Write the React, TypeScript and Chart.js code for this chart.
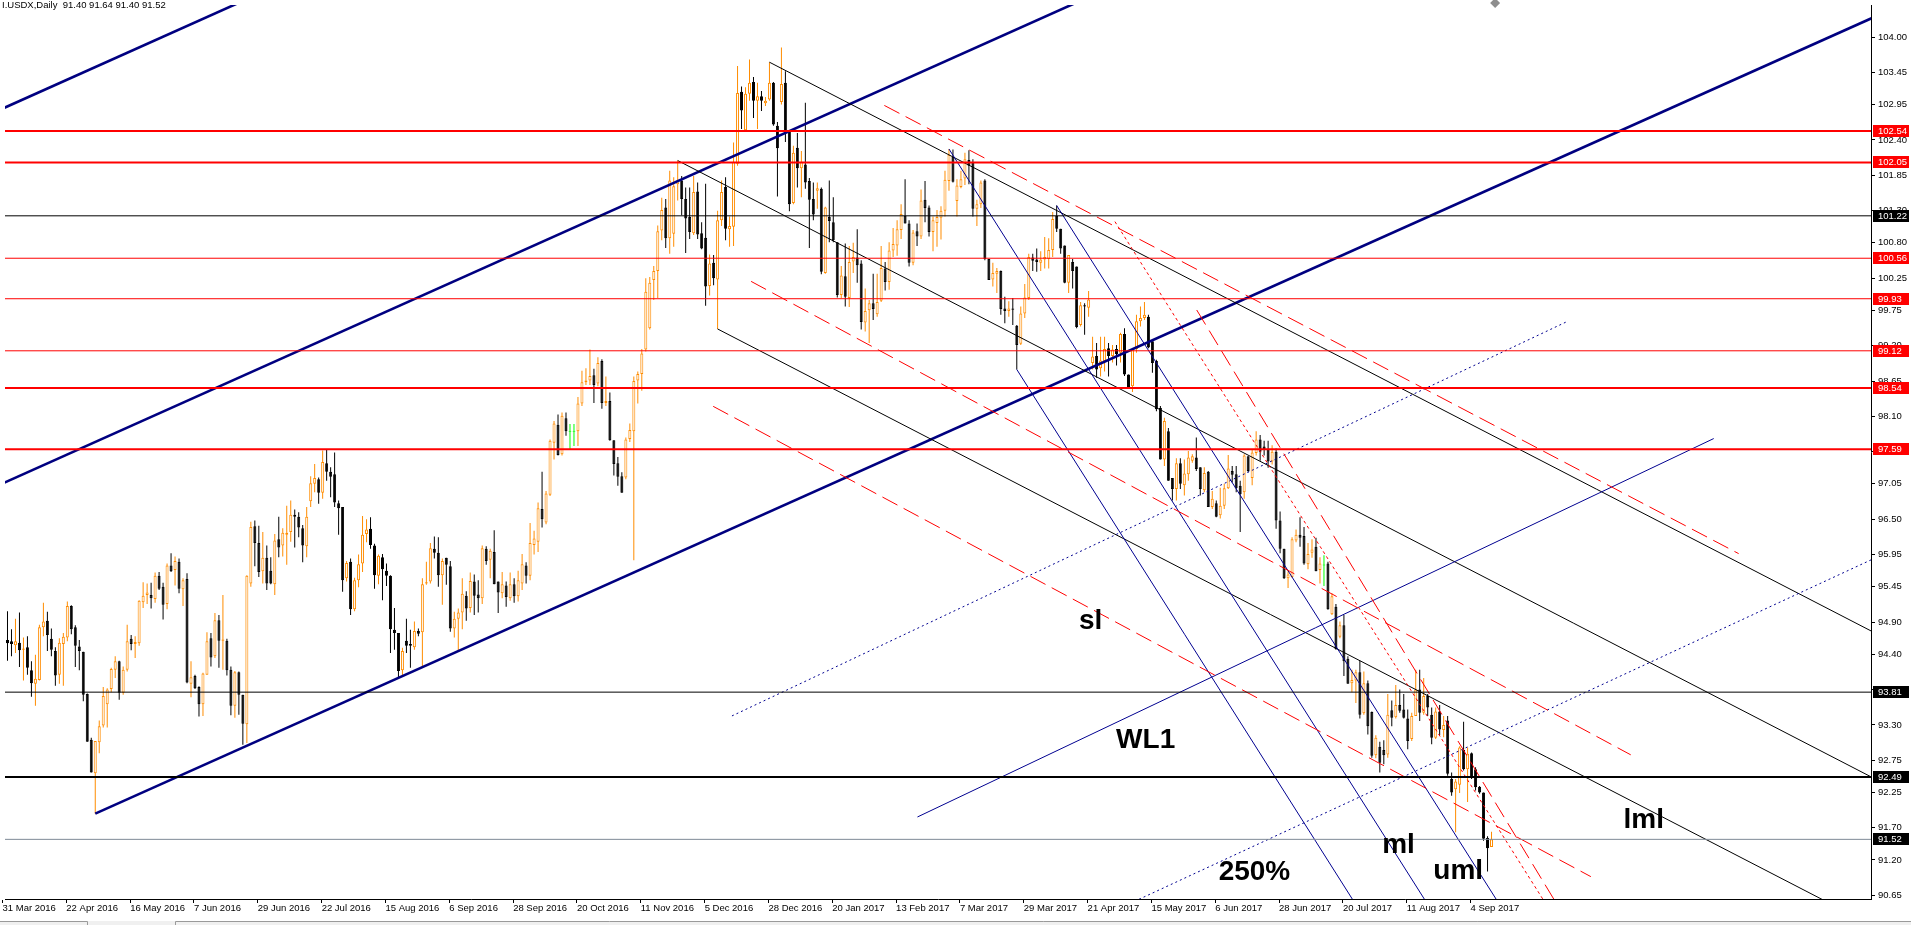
import React, { useEffect, useRef } from 'react';
import { Chart, registerables } from 'chart.js';

Chart.register(...registerables);

// ---------- daily candles (bar index 0 .. 372) ----------
const OPEN = [
94.62,94.60,94.54,94.58,94.47,94.51,94.15,93.94,94.00,94.82,
94.92,94.64,94.45,94.08,94.56,94.66,95.15,94.82,94.52,94.44,
93.78,93.07,92.55,93.03,93.29,93.62,93.86,94.16,94.29,93.80,
94.16,94.64,94.56,94.57,95.21,95.32,95.32,95.26,95.62,95.45,
95.18,95.78,95.71,95.84,95.41,95.57,93.94,94.06,93.89,93.62,
94.08,94.65,94.37,94.93,94.61,94.61,94.16,93.60,94.12,93.77,
93.31,95.50,96.39,96.13,95.69,95.90,95.70,95.49,96.19,96.09,
96.26,96.30,96.57,96.54,96.36,96.08,96.78,97.05,97.12,96.91,
97.37,97.24,97.20,96.75,96.69,95.58,95.84,95.10,95.55,95.81,
96.27,96.35,96.09,95.62,95.91,95.70,95.62,94.78,94.73,94.15,
94.61,94.56,94.51,94.76,94.74,95.50,95.53,96.04,95.98,95.63,
95.90,95.77,94.80,94.95,95.05,95.31,95.12,95.53,95.33,95.27,
96.04,95.87,95.99,95.53,95.35,95.47,95.27,95.49,95.30,95.50,
95.78,95.62,96.10,96.15,96.66,96.45,96.88,97.69,97.97,97.51,
98.07,97.86,97.86,97.87,98.30,98.63,98.66,98.74,98.61,98.96,
98.31,98.34,97.73,97.37,97.17,97.15,97.75,97.87,98.66,98.76,
99.14,99.47,100.22,100.36,100.99,101.35,100.87,100.94,101.71,101.77,
101.48,101.20,100.95,101.60,100.95,100.88,100.13,100.49,100.23,101.15,
101.67,101.01,101.05,102.03,103.15,102.55,103.12,103.30,103.01,103.08,
102.97,103.03,103.29,102.62,102.99,103.29,102.54,101.42,102.28,101.96,
102.02,101.76,101.48,101.61,101.64,100.33,101.20,101.12,100.81,99.99,
100.28,99.94,100.51,100.57,100.48,99.56,99.75,99.86,99.69,99.90,
100.40,100.19,100.68,100.76,101.00,101.22,101.10,100.49,100.98,100.90,
101.47,101.35,100.97,101.11,101.19,101.30,101.76,102.14,101.45,101.67,
101.80,102.09,102.05,101.33,101.40,101.77,100.55,100.23,100.32,100.36,
99.78,99.74,99.78,99.51,99.23,99.70,99.94,100.57,100.54,100.49,
100.54,100.55,100.69,101.22,101.02,100.76,100.18,100.50,100.43,99.52,
99.83,99.79,98.93,99.04,98.85,98.96,99.16,99.04,99.15,99.09,
99.38,98.75,98.57,99.15,99.58,99.63,99.65,99.27,98.96,98.23,
97.43,97.87,97.14,96.97,97.37,97.03,97.20,97.41,97.46,97.31,
96.95,97.24,96.69,96.75,96.56,96.71,96.98,97.25,97.20,97.02,
96.92,97.48,97.14,97.53,97.74,97.63,97.59,97.40,97.55,96.48,
96.04,95.58,95.60,96.17,96.26,96.24,95.80,95.98,96.07,95.71,
95.78,95.81,95.02,95.14,94.67,94.85,94.33,93.95,93.99,94.12,
93.48,93.95,93.50,92.83,92.96,92.91,92.84,93.53,93.42,93.61,
93.54,93.40,93.08,93.44,93.85,93.49,93.75,93.46,93.10,93.51,
93.22,93.37,92.46,92.30,92.37,92.91,92.61,92.86,92.61,92.34,
92.25,91.54,91.40];
const HIGH = [
95.07,94.79,94.95,95.05,94.66,94.68,94.29,94.39,94.86,95.20,
95.06,94.80,94.51,94.65,94.73,95.22,95.16,94.85,94.62,94.44,
93.79,93.10,93.05,93.37,93.89,93.87,94.19,94.37,94.30,94.21,
94.86,94.70,94.68,95.24,95.52,95.50,95.51,95.67,95.68,95.51,
95.81,95.97,95.92,95.89,95.58,95.66,94.29,94.08,93.90,94.11,
94.74,94.73,95.04,95.01,95.32,94.64,94.21,94.14,94.13,93.77,
95.63,96.46,96.48,96.40,96.30,96.09,95.91,96.27,96.54,96.36,
96.71,96.79,96.65,96.61,96.41,96.69,97.17,97.36,97.15,97.57,
97.59,97.31,97.54,96.79,96.69,95.85,95.89,95.59,95.95,96.55,
96.50,96.53,96.12,95.95,95.96,95.81,95.63,95.12,94.73,94.50,
94.95,94.78,94.91,94.80,95.58,95.84,96.13,96.23,96.22,95.89,
95.90,95.85,95.06,95.11,95.58,95.38,95.67,95.64,95.55,96.09,
96.08,96.04,96.33,95.53,95.68,95.53,95.67,95.58,95.70,95.96,
95.83,96.44,96.32,96.76,97.24,96.94,97.74,98.03,98.13,98.16,
98.16,97.98,97.98,98.40,98.81,98.85,99.14,98.84,99.02,98.99,
98.72,98.47,97.73,97.47,97.23,97.77,97.99,98.72,98.80,99.15,
100.25,100.27,100.44,101.07,101.50,101.48,101.92,101.82,102.08,101.84,
101.66,101.66,101.84,101.74,101.12,101.72,100.62,100.61,101.30,101.77,
101.82,101.21,102.36,103.55,103.23,103.22,103.65,103.38,103.29,103.16,
103.07,103.61,103.30,102.68,103.84,103.47,102.54,102.31,102.51,102.23,
102.98,101.81,101.74,101.74,101.66,101.36,101.77,101.51,100.81,100.44,
100.79,100.75,100.80,101.01,100.53,100.09,99.91,100.32,100.32,100.75,
100.50,100.81,101.03,101.15,101.40,101.79,101.15,101.00,101.10,101.63,
101.76,101.38,101.21,101.31,101.37,101.92,102.26,102.25,101.79,101.92,
102.20,102.24,102.10,101.47,101.77,101.79,100.55,100.49,100.41,100.37,
99.96,99.89,99.94,99.52,99.81,100.16,100.63,100.63,100.71,100.67,
100.89,100.87,101.28,101.38,101.02,100.76,100.61,100.55,100.43,99.88,
99.86,100.05,99.34,99.24,99.34,99.34,99.24,99.21,99.21,99.40,
99.47,98.75,99.16,99.68,99.81,99.88,99.68,99.27,98.98,98.26,
98.08,97.92,97.14,97.45,97.45,97.43,97.56,97.51,97.77,97.31,
97.31,97.25,96.94,96.79,96.99,97.05,97.50,97.33,97.33,97.10,
97.51,97.48,97.59,97.87,97.81,97.72,97.72,97.65,97.60,96.62,
96.04,95.69,96.22,96.34,96.53,96.38,96.13,96.19,96.21,95.91,
95.94,95.84,95.35,95.18,94.91,95.01,94.37,94.16,94.16,94.30,
94.13,93.99,93.51,93.14,93.04,93.06,93.78,93.68,93.92,93.85,
93.78,93.54,93.49,94.16,94.16,94.03,93.78,93.57,93.57,93.61,
93.44,93.44,92.56,92.46,92.97,93.35,92.95,92.87,92.64,92.35,
92.25,91.57,91.64];
const LOW = [
94.30,94.37,94.42,94.20,93.99,94.08,93.74,93.60,93.99,94.68,
94.45,94.37,93.91,93.94,93.91,94.60,94.71,94.20,94.15,93.67,
93.04,92.56,91.92,92.86,93.26,93.26,93.81,94.03,93.69,93.77,
94.13,94.46,94.34,94.53,95.12,95.18,95.11,95.20,95.40,94.94,
95.10,95.68,95.47,95.35,95.15,93.95,93.73,93.86,93.43,93.44,
94.08,94.21,94.34,94.19,94.16,94.07,93.45,93.41,93.46,92.99,
93.02,95.45,95.77,95.60,95.50,95.40,95.49,95.32,95.91,95.92,
95.79,96.15,96.06,96.22,95.83,95.91,96.69,96.92,96.74,96.82,
97.10,96.84,96.69,96.26,95.37,95.53,95.01,95.07,95.44,95.68,
96.14,96.04,95.42,95.49,95.24,95.46,94.42,94.47,94.04,94.07,
94.42,94.19,94.47,94.68,94.21,95.48,95.50,95.89,95.45,95.17,
95.48,94.75,94.66,94.44,94.79,94.92,95.05,95.01,95.05,95.18,
95.79,95.58,95.49,95.04,95.27,95.14,95.23,95.20,95.22,95.40,
95.50,95.55,95.95,95.99,96.37,96.42,96.86,97.43,97.49,97.49,
97.80,97.59,97.64,97.64,98.26,98.59,98.59,98.31,98.57,98.22,
98.26,97.72,97.18,97.02,96.91,97.12,97.70,95.86,98.30,98.50,
99.11,99.45,99.91,99.94,100.84,100.72,100.63,100.74,101.46,101.23,
100.64,100.86,100.92,100.86,100.70,99.82,99.98,100.14,99.46,101.06,
100.84,100.74,100.75,102.00,102.57,102.54,103.01,102.74,102.57,102.85,
102.93,103.01,102.62,101.52,102.95,102.37,101.29,101.40,101.66,101.51,
101.64,100.72,101.15,101.33,100.31,100.32,100.81,100.81,99.95,99.94,
99.81,99.80,100.33,100.18,99.45,99.42,99.24,99.60,99.65,99.88,
100.06,100.07,100.58,100.60,100.86,101.10,100.43,100.45,100.75,100.86,
101.12,100.90,100.67,100.74,100.85,101.21,101.61,101.74,101.21,101.65,
101.70,101.71,101.21,101.06,101.34,100.53,100.22,100.12,100.02,99.68,
99.55,99.65,99.52,98.83,99.21,99.63,99.91,100.36,100.35,100.36,
100.40,100.40,100.58,100.97,100.63,100.17,100.02,100.09,99.47,99.50,
99.37,99.65,98.83,98.70,98.72,98.80,98.72,98.94,98.89,98.94,
98.73,98.54,98.48,99.09,99.50,99.60,99.16,98.78,98.18,97.43,
97.33,97.10,96.79,96.79,96.97,96.87,97.10,97.38,97.25,96.87,
96.92,96.69,96.66,96.53,96.51,96.66,96.97,97.07,96.92,96.30,
96.82,97.23,97.03,97.49,97.41,97.49,97.30,97.35,96.35,95.97,
95.57,95.43,95.59,96.14,96.07,95.79,95.72,95.90,95.69,95.50,
95.46,95.09,95.01,94.47,94.65,94.06,93.94,93.81,93.64,93.40,
93.46,93.15,92.79,92.78,92.56,92.69,92.79,93.28,93.40,93.49,
93.40,92.92,93.05,93.44,93.36,93.46,93.44,93.00,93.08,93.14,
93.11,92.51,92.20,91.63,92.24,92.59,92.10,92.46,92.28,92.23,
91.50,91.02,91.40];
const CLOSE = [
94.57,94.56,94.60,94.46,94.49,94.19,93.95,94.02,94.82,94.91,
94.70,94.47,94.07,94.58,94.67,95.15,94.79,94.53,94.45,93.77,
93.04,92.56,93.05,93.28,93.75,93.85,94.17,94.29,93.80,94.16,
94.60,94.56,94.59,95.23,95.31,95.36,95.27,95.62,95.42,95.17,
95.78,95.69,95.85,95.42,95.55,93.96,94.04,93.87,93.62,94.10,
94.60,94.35,94.93,94.61,94.63,94.15,93.60,94.12,93.77,93.32,
95.62,96.38,96.13,95.68,95.90,95.50,95.50,96.17,96.06,96.29,
96.29,96.57,96.54,96.37,96.09,96.54,97.06,97.14,96.91,97.39,
97.24,97.16,96.76,96.67,95.55,95.82,95.10,95.55,95.80,96.26,
96.34,96.10,95.63,95.93,95.72,95.62,94.79,94.73,94.14,94.45,
94.53,94.53,94.76,94.72,95.49,95.52,96.05,95.98,95.63,95.85,
95.79,94.80,94.95,95.05,95.34,95.11,95.54,95.31,95.27,96.05,
95.85,96.01,95.49,95.36,95.49,95.29,95.49,95.30,95.55,95.80,
95.62,96.13,96.20,96.67,96.50,96.90,97.72,97.99,97.50,98.11,
97.87,97.86,97.86,98.30,98.63,98.66,98.73,98.59,98.93,98.31,
98.34,97.73,97.36,97.16,96.91,97.74,97.89,98.65,98.76,99.08,
100.04,100.18,100.36,100.98,101.31,100.87,101.77,101.68,101.77,101.48,
101.18,100.97,101.59,100.93,100.71,100.12,100.48,100.25,101.15,101.59,
101.02,101.06,102.06,103.13,102.86,103.12,103.29,103.01,103.08,103.01,
103.01,103.29,102.64,102.27,103.27,102.51,101.40,102.20,101.96,102.06,
101.74,101.47,101.24,101.65,100.35,101.35,101.14,100.84,99.99,100.29,
99.96,100.50,100.58,100.45,99.57,99.74,99.86,99.77,99.88,100.41,
100.19,100.68,100.78,101.01,101.25,101.10,100.49,100.96,100.90,101.46,
101.34,100.97,101.15,101.20,101.30,101.78,102.17,101.75,101.69,101.79,
102.10,102.00,101.33,101.40,101.74,100.55,100.22,100.33,100.36,99.77,
99.74,99.78,99.76,99.21,99.70,99.95,100.58,100.52,100.50,100.54,
100.58,100.69,101.17,101.02,100.71,100.18,100.61,100.36,99.49,99.83,
99.81,99.92,99.03,98.83,98.97,99.15,99.04,99.14,99.07,99.38,
98.75,98.54,99.15,99.58,99.63,99.68,99.17,98.93,98.21,97.43,
98.03,97.10,96.97,97.37,97.05,97.21,97.46,97.48,97.28,96.97,
97.22,96.69,96.82,96.54,96.71,96.98,97.29,97.19,96.98,96.89,
97.49,97.25,97.54,97.74,97.55,97.59,97.40,97.55,96.48,96.04,
95.58,95.64,96.19,96.26,96.21,95.81,95.96,96.03,95.69,95.81,
95.78,95.10,95.30,94.48,94.85,94.29,93.94,94.00,94.12,93.46,
93.95,93.28,92.82,93.10,92.71,92.83,93.46,93.41,93.61,93.52,
93.41,93.05,93.44,93.85,93.49,93.75,93.57,93.10,93.51,93.23,
93.30,92.54,92.25,92.42,92.95,92.61,92.85,92.48,92.33,92.25,
91.53,91.38,91.52];

// ---------- axes ----------
const DATE_LABELS = ['31 Mar 2016','22 Apr 2016','16 May 2016','7 Jun 2016','29 Jun 2016','22 Jul 2016',
  '15 Aug 2016','6 Sep 2016','28 Sep 2016','20 Oct 2016','11 Nov 2016','5 Dec 2016','28 Dec 2016',
  '20 Jan 2017','13 Feb 2017','7 Mar 2017','29 Mar 2017','21 Apr 2017','15 May 2017','6 Jun 2017',
  '28 Jun 2017','20 Jul 2017','11 Aug 2017','4 Sep 2017'];
const DATE_TICK_BARS = DATE_LABELS.map((_, i) => -1.25 + 16 * i);
const PRICE_TICKS = [104.00,103.45,102.95,102.40,101.85,101.30,100.80,100.25,99.75,99.20,98.65,98.10,
  97.55,97.05,96.50,95.95,95.45,94.90,94.40,93.85,93.30,92.75,92.25,91.70,91.20,90.65];
const X_MIN = -0.625, X_MAX = 467.125;
const Y_MIN = 90.592, Y_MAX = 104.4997;

// ---------- horizontal levels ----------
const LEVELS =      [102.54, 102.05, 101.22, 100.56, 99.93, 99.12, 98.54, 97.59, 93.81, 92.49, 91.52];
const LEVEL_COLOR = ['#ff0000','#ff0000','#000000','#ff0000','#ff0000','#ff0000','#ff0000','#ff0000','#000000','#000000','#7f8a96'];
const LEVEL_WIDTH = [2, 2, 1, 1, 1, 1, 2, 2, 1, 2, 1];
const LEVEL_TAG =   ['#ff0000','#ff0000','#000000','#ff0000','#ff0000','#ff0000','#ff0000','#ff0000','#000000','#000000','#000000'];

// ---------- trend objects: [bar1, price1, bar2, price2] ----------
const NAVY_CHANNEL = [[-5, 102.784, 80, 105.146], [-5, 96.952, 300, 105.428], [22, 91.92, 480, 104.648]];
const BLACK_FORK = [[191, 103.61, 480, 94.35], [168, 102.08, 480, 92.08], [178, 99.46, 480, 89.78]];
const BLUE_FORK = [[236, 102.26, 400, 86.20], [263, 101.38, 400, 87.96], [253, 98.83, 400, 84.43]];
const BLUE_SOLID = [[228.1, 91.868, 427.7, 97.755]];
const BLUE_DOTTED = [[181.6, 93.44, 390.6, 99.565], [270, 90.195, 470, 95.95]];
const RED_DASHED = [[219.8, 102.937, 433.95, 95.965], [186.4, 100.20, 406.9, 92.835],
  [176.9, 98.256, 396.9, 90.94], [298.1, 99.755, 392.3, 90.11]];
const RED_DOTTED = [[277.6, 101.13, 389.75, 90.11]];

// ---------- text notes ----------
const NOTE_TEXT = ['sl', 'WL1', '250%', 'ml', 'uml', 'lml'];
const NOTE_BAR = [268.6, 277.9, 303.6, 344.6, 357.4, 405.1];
const NOTE_PRICE = [94.80, 92.94, 90.888, 91.30, 90.90, 91.69];

const TITLE = 'I.USDX,Daily  91.40 91.64 91.40 91.52';
const SHIFT_MARK = [{ x: 372.9, y: 104.53 }];

const ORANGE = '#ff8c00';
const LIME = '#00ff00';
const FONT = '"Liberation Sans", Arial, sans-serif';

export default function App() {
  const ref = useRef<HTMLCanvasElement | null>(null);

  useEffect(() => {
    document.body.style.margin = '0';
    const canvas = ref.current;
    if (!canvas) return;
    const idx = CLOSE.map((_, i) => i);
    const col = idx.map(i => (CLOSE[i] > OPEN[i] ? ORANGE : CLOSE[i] < OPEN[i] ? '#000000' : LIME));
    const fillCol = idx.map(i => (CLOSE[i] > OPEN[i] ? '#ffffff' : col[i]));

    const datasets: any[] = [];
    const seg = (s: number[], color: string, width: number, dash: number[]) => {
      datasets.push({
        type: 'line',
        data: [{ x: s[0], y: s[1] }, { x: s[2], y: s[3] }],
        borderColor: color, borderWidth: width, borderDash: dash,
        pointRadius: 0, pointHoverRadius: 0, fill: false, tension: 0, order: 0,
      });
    };
    LEVELS.forEach((v, i) => seg([-10, v, 500, v], LEVEL_COLOR[i], LEVEL_WIDTH[i], []));
    RED_DASHED.forEach(s => seg(s, '#ff0000', 1, [17, 7]));
    RED_DOTTED.forEach(s => seg(s, '#ff0000', 1, [3, 3]));
    BLUE_DOTTED.forEach(s => seg(s, '#000090', 1, [2, 3]));
    BLUE_SOLID.forEach(s => seg(s, '#000090', 1, []));
    BLUE_FORK.forEach(s => seg(s, '#000090', 1, []));
    BLACK_FORK.forEach(s => seg(s, '#000000', 1, []));
    NAVY_CHANNEL.forEach(s => seg(s, '#000080', 2.6, []));

    datasets.push({
      type: 'line', data: SHIFT_MARK, showLine: false, pointStyle: 'rectRot', pointRadius: 5,
      pointBackgroundColor: '#8e8e8e', pointBorderWidth: 0, clip: false, order: 0,
    });

    datasets.push({
      type: 'bar',
      data: idx.map(i => ({ x: i, y: [OPEN[i], CLOSE[i]] })),
      backgroundColor: fillCol, borderColor: col, borderWidth: 1, borderSkipped: false,
      barThickness: 3, grouped: false, minBarLength: 1, inflateAmount: 0, order: 10,
    });
    datasets.push({
      type: 'bar',
      data: idx.map(i => ({ x: i, y: [LOW[i], HIGH[i]] })),
      backgroundColor: col, borderWidth: 0, barThickness: 1, grouped: false,
      inflateAmount: 0, order: 20,
    });

    const overlay = {
      id: 'overlay',
      afterDatasetsDraw(chart: any) {
        const { ctx, scales } = chart;
        const sx = scales.x, sy = scales.y;
        ctx.save();
        ctx.fillStyle = '#000000';
        ctx.font = `bold 28px ${FONT}`;
        ctx.textAlign = 'left';
        ctx.textBaseline = 'alphabetic';
        NOTE_TEXT.forEach((t, i) => {
          ctx.fillText(t, sx.getPixelForValue(NOTE_BAR[i]), sy.getPixelForValue(NOTE_PRICE[i]));
        });
        ctx.font = `9.5px ${FONT}`;
        ctx.textBaseline = 'top';
        ctx.fillText(TITLE, 2, 1);
        ctx.restore();
      },
      afterDraw(chart: any) {
        const { ctx, scales, chartArea } = chart;
        const sy = scales.y;
        ctx.save();
        ctx.font = `9.5px ${FONT}`;
        ctx.textAlign = 'left';
        ctx.textBaseline = 'middle';
        LEVELS.forEach((v, i) => {
          const y = sy.getPixelForValue(v);
          ctx.fillStyle = LEVEL_TAG[i];
          ctx.fillRect(chartArea.right + 2, Math.round(y) - 6, 36, 12);
          ctx.fillStyle = '#ffffff';
          ctx.fillText(v.toFixed(2), chartArea.right + 7, Math.round(y) + 0.5);
        });
        // window tab strip at the very bottom
        const H = chart.height;
        ctx.fillStyle = '#f0f0f0';
        ctx.fillRect(0, H - 4, chart.width, 4);
        ctx.strokeStyle = '#9a9a9a';
        ctx.lineWidth = 1;
        ctx.beginPath();
        ctx.moveTo(0, H - 3.5); ctx.lineTo(87.5, H - 3.5); ctx.lineTo(87.5, H);
        ctx.moveTo(175.5, H); ctx.lineTo(175.5, H - 3.5); ctx.lineTo(chart.width, H - 3.5);
        ctx.stroke();
        ctx.restore();
      },
    };

    const chart = new Chart(canvas, {
      type: 'bar',
      data: { datasets },
      options: {
        animation: false,
        responsive: false,
        devicePixelRatio: 1,
        events: [],
        layout: { padding: 0 },
        plugins: { legend: { display: false }, tooltip: { enabled: false }, title: { display: false } },
        scales: {
          x: {
            type: 'linear', position: 'bottom', min: X_MIN, max: X_MAX, offset: false,
            grid: { display: true, drawOnChartArea: false, drawTicks: true, tickLength: 4, color: '#000000', offset: false },
            border: { display: true, color: '#000000', width: 1 },
            ticks: {
              autoSkip: false, maxRotation: 0, minRotation: 0, align: 'start', padding: 0,
              color: '#000000', font: { family: FONT, size: 9.5 },
              callback: (_v: any, i: number) => DATE_LABELS[i] ?? '',
            },
            afterBuildTicks: (s: any) => { s.ticks = DATE_TICK_BARS.map(v => ({ value: v })); },
            afterFit: (s: any) => { s.height = 26; s.paddingLeft = 0; s.paddingRight = 0; s.paddingTop = 0; s.paddingBottom = 0; },
          },
          y: {
            type: 'linear', position: 'right', min: Y_MIN, max: Y_MAX,
            grid: { display: true, drawOnChartArea: false, drawTicks: true, tickLength: 4, color: '#000000' },
            border: { display: true, color: '#000000', width: 1 },
            ticks: {
              autoSkip: false, padding: 3, color: '#000000', font: { family: FONT, size: 9.5 },
              callback: (v: any) => Number(v).toFixed(2),
            },
            afterBuildTicks: (s: any) => { s.ticks = PRICE_TICKS.map(v => ({ value: v })); },
            afterFit: (s: any) => { s.width = 40; s.paddingLeft = 0; s.paddingRight = 0; s.paddingTop = 0; s.paddingBottom = 0; },
          },
        },
      } as any,
      plugins: [overlay],
    });
    return () => chart.destroy();
  }, []);

  return (
    <div style={{ width: 1911, height: 925, background: '#ffffff' }}>
      <canvas ref={ref} width={1911} height={925} style={{ display: 'block' }} />
    </div>
  );
}
